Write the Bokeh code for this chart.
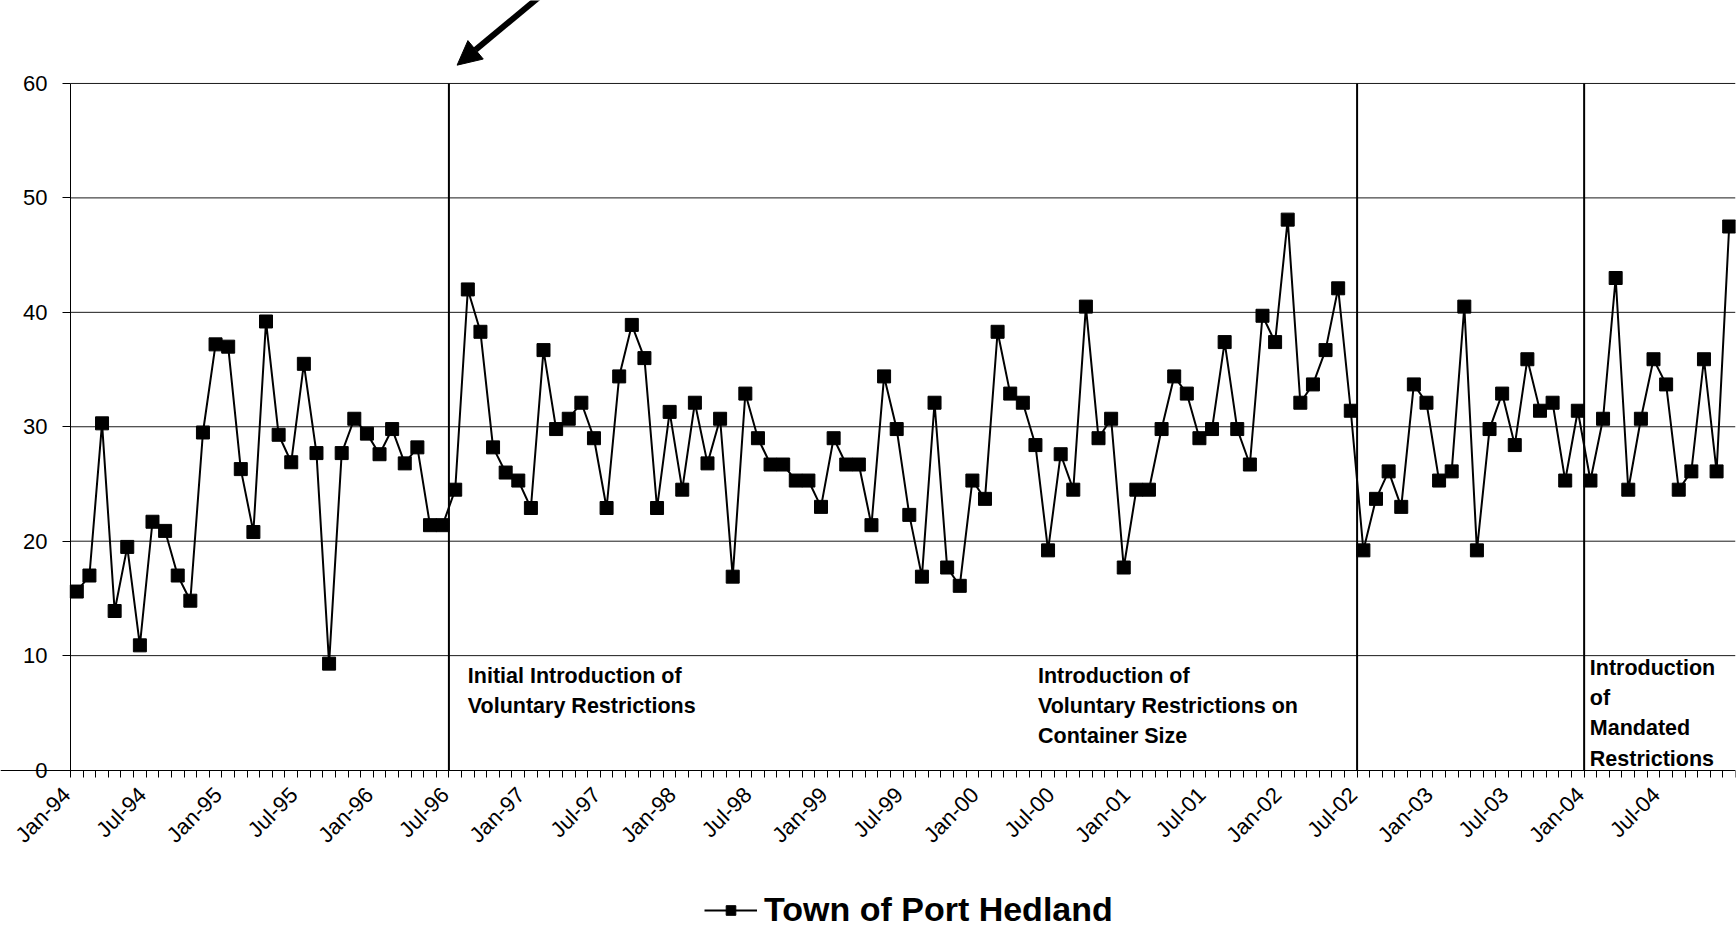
import math
from bokeh.plotting import figure
from bokeh.models import (FixedTicker, Range1d, Legend, LegendItem, Arrow, NormalHead,
                          ColumnDataSource)
from bokeh.core.properties import value
from bokeh.embed import file_html
from bokeh.resources import INLINE

FONT = "Liberation Sans"

series_name = "Town of Port Hedland"

# Monthly values, Jan-94 .. Dec-04
values = [
    15.6, 17.0, 30.3, 13.9, 19.5, 10.9, 21.7, 20.9, 17.0, 14.8, 29.5, 37.2,
    37.0, 26.3, 20.8, 39.2, 29.3, 26.9, 35.5, 27.7, 9.3, 27.7, 30.7, 29.4,
    27.6, 29.8, 26.8, 28.2, 21.4, 21.4, 24.5, 42.0, 38.3, 28.2, 26.0, 25.3,
    22.9, 36.7, 29.8, 30.7, 32.1, 29.0, 22.9, 34.4, 38.9, 36.0, 22.9, 31.3,
    24.5, 32.1, 26.8, 30.7, 16.9, 32.9, 29.0, 26.7, 26.7, 25.3, 25.3, 23.0,
    29.0, 26.7, 26.7, 21.4, 34.4, 29.8, 22.3, 16.9, 32.1, 17.7, 16.1, 25.3,
    23.7, 38.3, 32.9, 32.1, 28.4, 19.2, 27.6, 24.5, 40.5, 29.0, 30.7, 17.7,
    24.5, 24.5, 29.8, 34.4, 32.9, 29.0, 29.8, 37.4, 29.8, 26.7, 39.7, 37.4,
    48.1, 32.1, 33.7, 36.7, 42.1, 31.4, 19.2, 23.7, 26.1, 23.0, 33.7, 32.1,
    25.3, 26.1, 40.5, 19.2, 29.8, 32.9, 28.4, 35.9, 31.4, 32.1, 25.3, 31.4,
    25.3, 30.7, 43.0, 24.5, 30.7, 35.9, 33.7, 24.5, 26.1, 35.9, 26.1, 47.5,
]
month_index = list(range(len(values)))

tick_labels = ["Jan-94", "Jul-94", "Jan-95", "Jul-95", "Jan-96", "Jul-96",
               "Jan-97", "Jul-97", "Jan-98", "Jul-98", "Jan-99", "Jul-99",
               "Jan-00", "Jul-00", "Jan-01", "Jul-01", "Jan-02", "Jul-02",
               "Jan-03", "Jul-03", "Jan-04", "Jul-04"]
tick_months = [6 * k for k in range(len(tick_labels))]

y_ticks = [0, 10, 20, 30, 40, 50, 60]

# events: month index of the first month of each restriction period
event_months = [30, 102, 120]

annotations = [
    (31.0, ["Initial Introduction of", "Voluntary Restrictions"]),
    (76.2, ["Introduction of", "Voluntary Restrictions on", "Container Size"]),
    (119.95, ["Introduction", "of", "Mandated", "Restrictions"]),
]

n = len(values)
PX = 12.613  # pixels per month
W, H = 1736, 930
x0 = -0.5 - 70 / PX
p = figure(width=W, height=H, output_backend="svg", toolbar_location=None,
           x_range=Range1d(x0, n - 0.5), y_range=Range1d(-14.02, 67.25),
           min_border_left=0, min_border_right=1, min_border_top=0,
           min_border_bottom=0)
p.outline_line_color = None
p.background_fill_color = "white"
p.border_fill_color = "white"

# horizontal grid lines across the plot area only
p.xgrid.visible = False
p.ygrid.visible = False
p.segment(x0=[-0.5] * (len(y_ticks) - 1), y0=y_ticks[1:],
          x1=[n - 0.5] * (len(y_ticks) - 1), y1=y_ticks[1:],
          line_color="black", line_width=1, line_alpha=0.9)

# y axis
ya = p.yaxis[0]
ya.fixed_location = -0.5
ya.ticker = FixedTicker(ticks=y_ticks)
ya.bounds = (0, 60)
ya.axis_line_color = "black"
ya.major_tick_out = 8
ya.major_tick_in = 0
ya.minor_tick_line_color = None
ya.major_label_text_font = FONT
ya.major_label_text_font_size = "22px"
ya.major_label_text_color = "black"
ya.major_label_standoff = 15

# x axis (drawn at y = 0 inside the extended frame)
lab_shift = 0.8
tick_pos = [round(m - lab_shift, 2) for m in tick_months]
xa = p.xaxis[0]
xa.fixed_location = 0
xa.ticker = FixedTicker(ticks=tick_pos,
                        minor_ticks=[i - 0.5 for i in range(n + 1)])
xa.major_label_overrides = {pos: lab for pos, lab in zip(tick_pos, tick_labels)}
xa.major_tick_line_color = None
xa.minor_tick_out = 7
xa.minor_tick_in = 0
xa.minor_tick_line_color = "black"
xa.axis_line_color = "black"
xa.major_label_orientation = math.pi / 4
xa.major_label_text_font = FONT
xa.major_label_text_font_size = "22px"
xa.major_label_text_color = "black"
xa.major_label_standoff = 14

# event lines
for m in event_months:
    p.segment(x0=[m - 0.5], y0=[0], x1=[m - 0.5], y1=[60],
              line_color="black", line_width=2)

# annotation texts
line_step = 2.65
for xa0, lines in annotations:
    k = len(lines)
    top = 8.25 if k < 4 else 8.95
    ys = [top - i * line_step for i in range(k)]
    p.text(x=[xa0] * k, y=ys, text=lines, text_font=value(FONT),
           text_font_size="21.5px", text_font_style="bold",
           text_baseline="alphabetic", text_align="left", text_color="black")

# series
src = ColumnDataSource(dict(x=month_index, y=values))
lr = p.line("x", "y", source=src, line_color="black", line_width=2)
sr = p.scatter("x", "y", source=src, marker="square", size=13,
               fill_color="black", line_color="black")

# arrow pointing at the first event
p.add_layout(Arrow(end=NormalHead(size=24, fill_color="black", line_color="black"),
                   x_start=36.7, y_start=67.6, x_end=30.15, y_end=61.6,
                   line_color="black", line_width=6))

legend = Legend(items=[LegendItem(label=series_name, renderers=[lr, sr])],
                location=(704, 1), glyph_width=53, glyph_height=24,
                label_text_font=FONT, label_text_font_size="34px",
                label_text_font_style="bold", label_text_color="black",
                label_standoff=7, padding=0, margin=0, border_line_color=None,
                background_fill_alpha=0)
p.add_layout(legend, "center")

open("out.html", "w").write(file_html(p, INLINE))
